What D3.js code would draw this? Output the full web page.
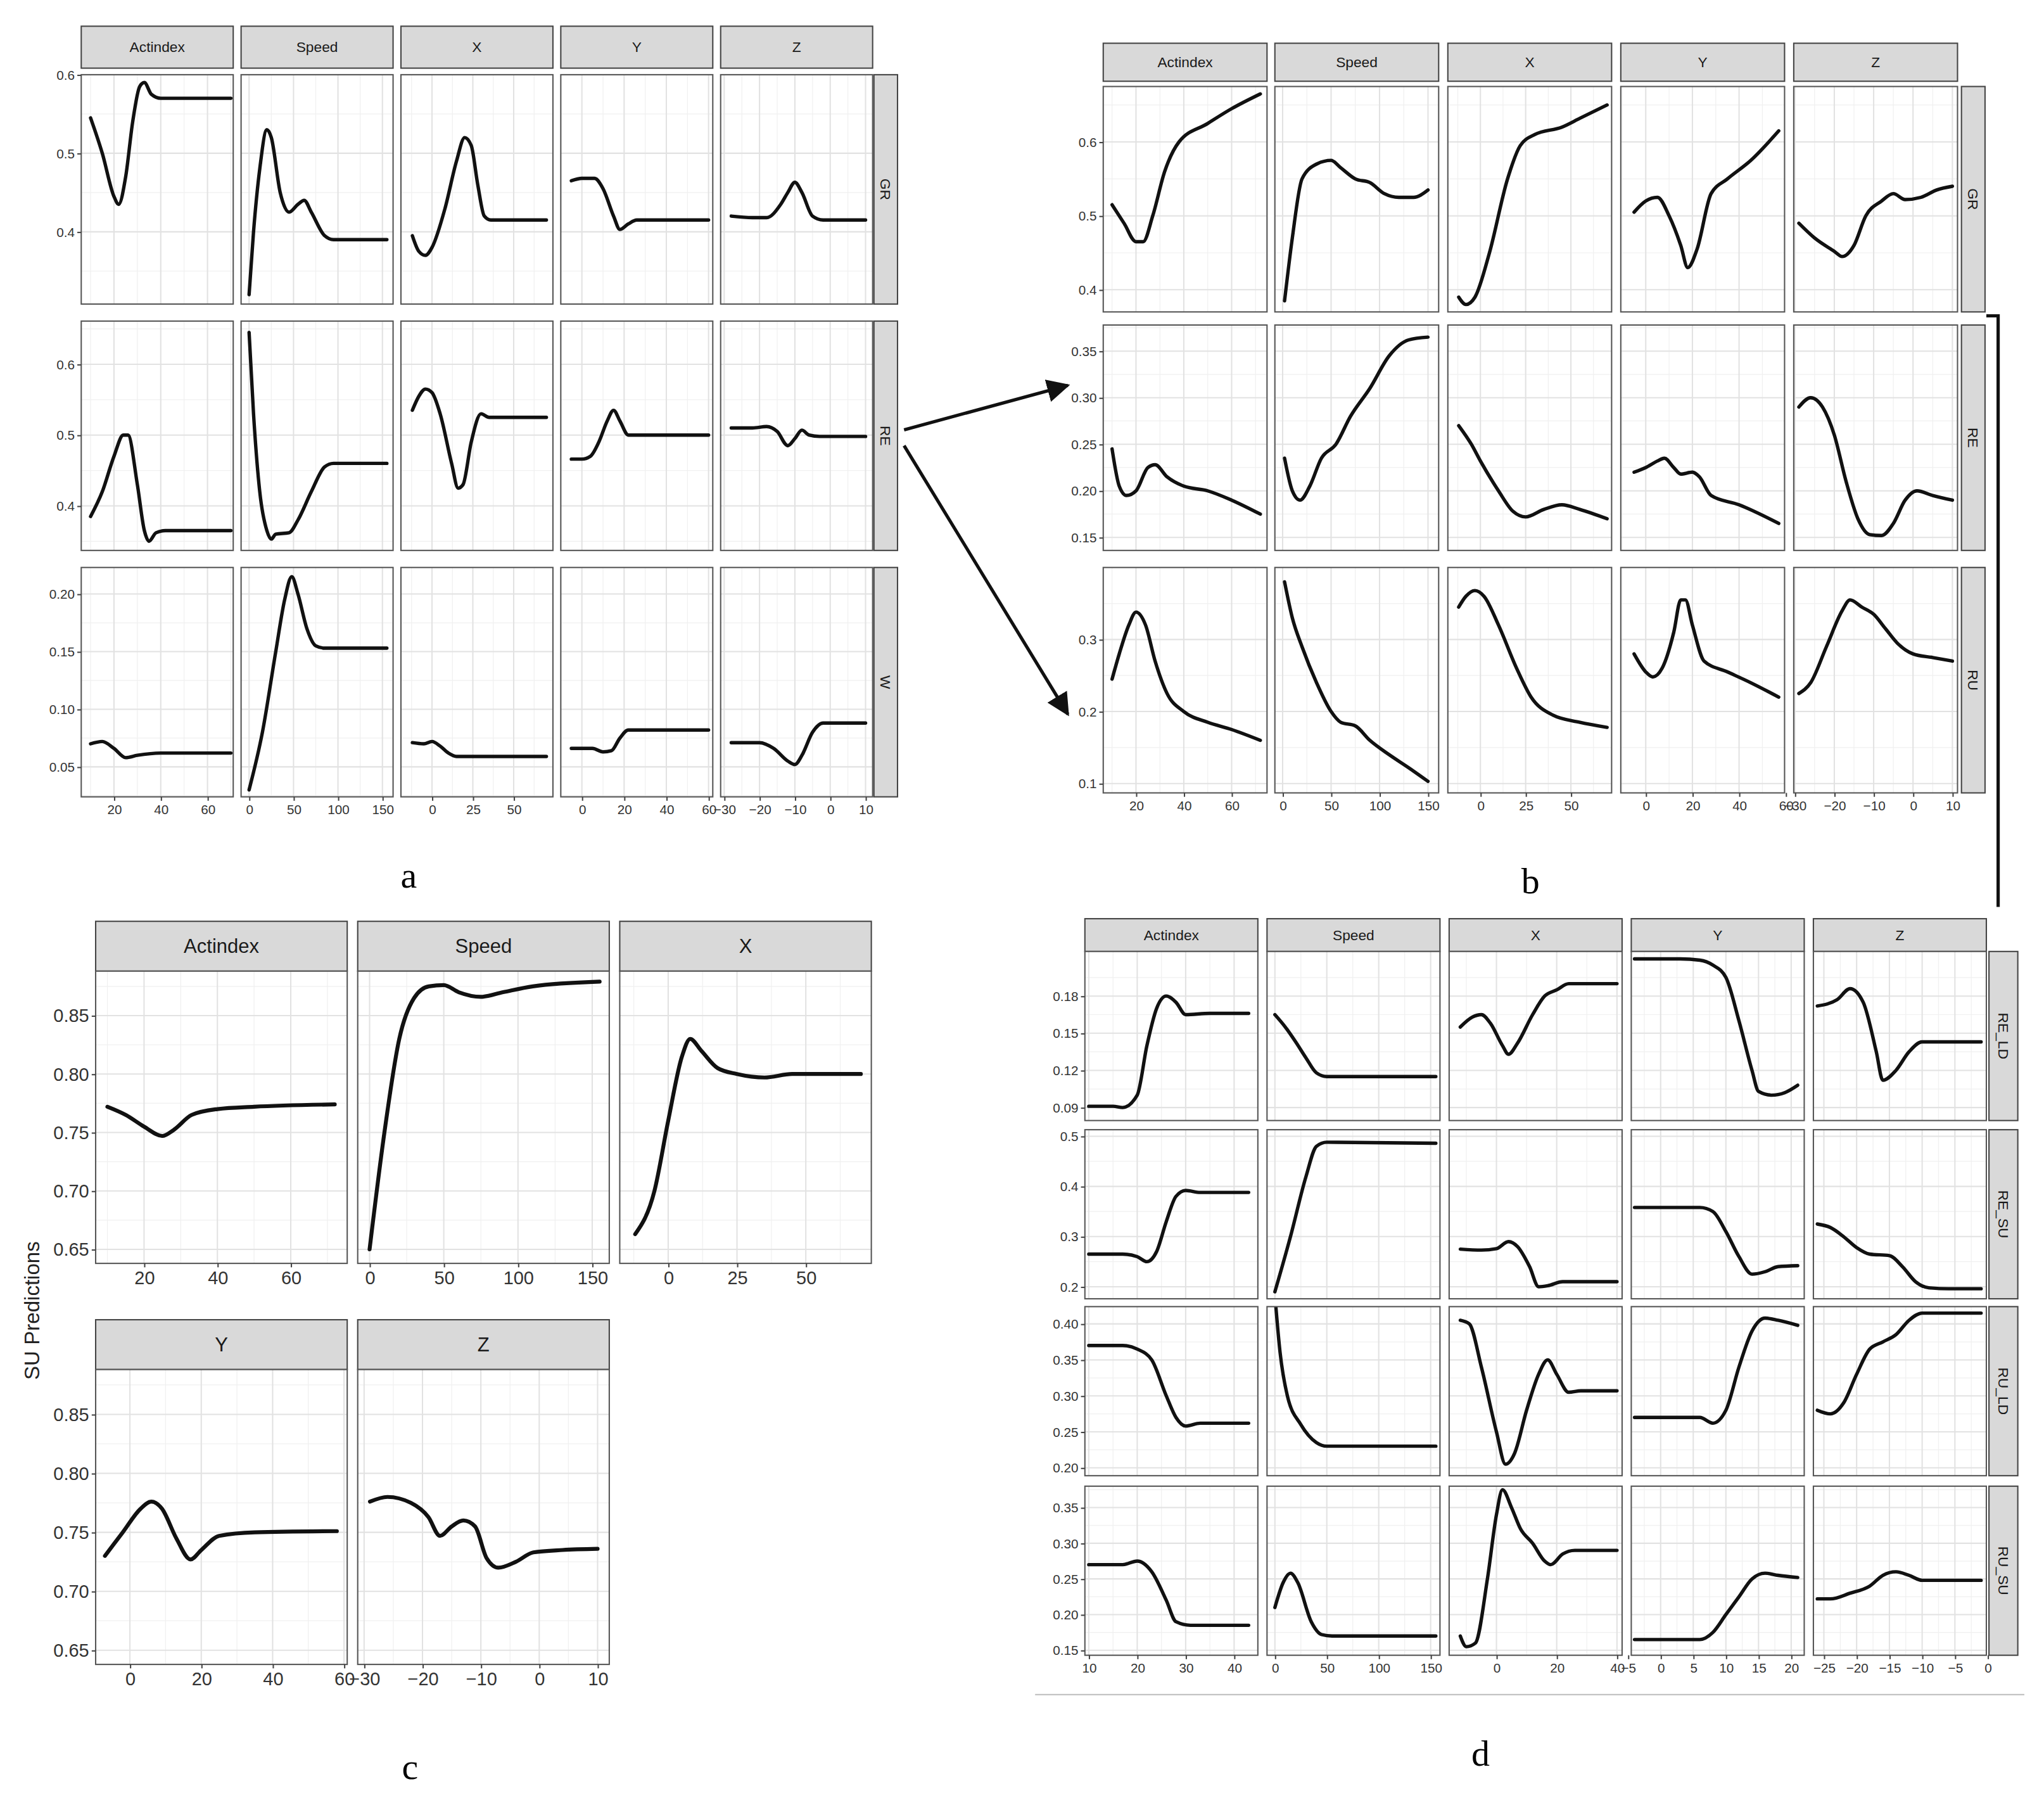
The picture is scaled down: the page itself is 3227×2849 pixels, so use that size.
<!DOCTYPE html>
<html><head><meta charset="utf-8">
<script src="https://cdn.jsdelivr.net/npm/d3@7"></script>
<style>body{margin:0;background:#fff}</style></head>
<body><div id="c"></div>
<script>
// ---------- DATA ----------
const colNames = ["Actindex","Speed","X","Y","Z"];
const aRows = ["GR","RE","W"], bRows = ["GR","RE","RU"], dRows = ["RE_LD","RE_SU","RU_LD","RU_SU"];
// x ticks
const xTicksStd = [[20,40,60],[0,50,100,150],[0,25,50],[0,20,40,60],[-30,-20,-10,0,10]];
const xTicksD = [[10,20,30,40],[0,50,100,150],[0,20,40],[-5,0,5,10,15,20],[-25,-20,-15,-10,-5,0]];
// y ticks
const aYTicks = [[0.4,0.5,0.6],[0.4,0.5,0.6],[0.05,0.10,0.15,0.20]];
const bYTicks = [[0.4,0.5,0.6],[0.15,0.20,0.25,0.30,0.35],[0.1,0.2,0.3]];
const cYTicks = [0.65,0.70,0.75,0.80,0.85];
const dYTicks = [[0.09,0.12,0.15,0.18],[0.2,0.3,0.4,0.5],[0.20,0.25,0.30,0.35,0.40],[0.15,0.20,0.25,0.30,0.35]];

// panel a
const aGR = [
 [[10,0.545],[15,0.50],[20,0.445],[22,0.435],[25,0.47],[28,0.54],[31,0.585],[33,0.59],[36,0.575],[40,0.57],[70,0.57]],
 [[0,0.32],[5,0.40],[12,0.48],[20,0.53],[25,0.52],[35,0.45],[45,0.425],[55,0.435],[62,0.44],[70,0.425],[85,0.395],[95,0.39],[155,0.39]],
 [[-12,0.395],[-8,0.375],[-4,0.37],[0,0.38],[8,0.43],[15,0.49],[20,0.52],[24,0.51],[28,0.46],[32,0.42],[36,0.415],[70,0.415]],
 [[-5,0.465],[0,0.468],[6,0.468],[10,0.455],[15,0.42],[18,0.403],[22,0.41],[26,0.415],[60,0.415]],
 [[-28,0.42],[-22,0.418],[-18,0.418],[-14,0.435],[-12,0.45],[-10,0.463],[-8,0.45],[-5,0.42],[-2,0.415],[10,0.415]]];
const aRE = [
 [[10,0.385],[15,0.42],[20,0.47],[24,0.50],[26,0.50],[30,0.43],[33,0.365],[35,0.35],[38,0.362],[42,0.365],[70,0.365]],
 [[0,0.645],[5,0.53],[12,0.42],[20,0.365],[25,0.353],[30,0.36],[45,0.362],[55,0.38],[70,0.42],[85,0.455],[95,0.46],[155,0.46]],
 [[-12,0.535],[-8,0.555],[-4,0.565],[0,0.56],[5,0.53],[12,0.46],[16,0.425],[19,0.43],[24,0.49],[30,0.53],[35,0.525],[70,0.525]],
 [[-5,0.466],[0,0.466],[4,0.47],[8,0.49],[12,0.52],[15,0.535],[18,0.52],[22,0.50],[60,0.50]],
 [[-28,0.51],[-22,0.51],[-18,0.512],[-15,0.505],[-12,0.485],[-10,0.495],[-8,0.507],[-6,0.50],[-3,0.498],[10,0.498]]];
const aW = [
 [[10,0.07],[15,0.072],[20,0.066],[25,0.058],[30,0.06],[40,0.062],[70,0.062]],
 [[0,0.03],[15,0.08],[30,0.15],[40,0.195],[48,0.215],[55,0.2],[65,0.17],[75,0.155],[85,0.153],[155,0.153]],
 [[-12,0.071],[-5,0.07],[0,0.072],[5,0.068],[10,0.062],[15,0.059],[70,0.059]],
 [[-5,0.066],[5,0.066],[10,0.063],[14,0.064],[18,0.075],[22,0.082],[60,0.082]],
 [[-28,0.071],[-20,0.071],[-16,0.066],[-12,0.055],[-10,0.052],[-8,0.06],[-5,0.08],[-2,0.088],[10,0.088]]];
// panel b
const bGR = [
 [[10,0.515],[15,0.49],[20,0.465],[23,0.465],[27,0.5],[32,0.56],[38,0.6],[50,0.625],[60,0.645],[72,0.665]],
 [[2,0.385],[10,0.47],[20,0.55],[35,0.57],[50,0.575],[60,0.565],[75,0.55],[90,0.545],[105,0.53],[120,0.525],[135,0.525],[150,0.535]],
 [[-12,0.39],[-8,0.38],[-3,0.39],[5,0.45],[15,0.55],[22,0.595],[30,0.61],[45,0.62],[55,0.632],[70,0.65]],
 [[-5,0.505],[0,0.52],[5,0.525],[10,0.5],[15,0.46],[18,0.43],[22,0.455],[28,0.53],[35,0.55],[45,0.575],[57,0.615]],
 [[-29,0.49],[-25,0.47],[-20,0.452],[-18,0.445],[-15,0.46],[-12,0.5],[-8,0.52],[-5,0.53],[-2,0.522],[2,0.525],[6,0.535],[10,0.54]]];
const bRE = [
 [[10,0.245],[13,0.205],[16,0.195],[20,0.2],[25,0.225],[28,0.228],[33,0.215],[40,0.205],[50,0.2],[60,0.19],[72,0.175]],
 [[2,0.235],[10,0.2],[18,0.19],[28,0.205],[40,0.235],[55,0.25],[70,0.28],[90,0.31],[110,0.345],[130,0.362],[150,0.365]],
 [[-12,0.27],[-5,0.25],[0,0.232],[10,0.2],[18,0.178],[25,0.172],[35,0.18],[45,0.185],[55,0.18],[70,0.17]],
 [[-5,0.22],[0,0.225],[5,0.232],[8,0.235],[12,0.225],[15,0.218],[20,0.22],[23,0.215],[28,0.195],[40,0.185],[57,0.165]],
 [[-29,0.29],[-26,0.3],[-23,0.29],[-20,0.26],[-17,0.21],[-14,0.17],[-11,0.153],[-8,0.152],[-5,0.165],[-2,0.19],[1,0.2],[5,0.195],[10,0.19]]];
const bRU = [
 [[10,0.245],[13,0.28],[17,0.32],[20,0.338],[24,0.32],[28,0.27],[33,0.225],[40,0.2],[50,0.185],[60,0.175],[72,0.16]],
 [[2,0.38],[10,0.33],[20,0.29],[35,0.24],[50,0.2],[60,0.185],[75,0.18],[90,0.16],[110,0.14],[130,0.122],[150,0.103]],
 [[-12,0.345],[-8,0.36],[-3,0.368],[2,0.36],[10,0.32],[20,0.26],[28,0.22],[40,0.195],[55,0.185],[70,0.178]],
 [[-5,0.28],[0,0.255],[3,0.248],[7,0.26],[12,0.31],[15,0.355],[17,0.355],[20,0.32],[25,0.27],[35,0.255],[45,0.24],[57,0.22]],
 [[-29,0.225],[-26,0.24],[-22,0.29],[-18,0.34],[-16,0.355],[-13,0.345],[-10,0.335],[-7,0.315],[-4,0.295],[0,0.28],[5,0.275],[10,0.27]]];
// panel c
const cSU = [
 [[10,0.772],[15,0.765],[20,0.755],[25,0.747],[28,0.752],[33,0.765],[40,0.77],[50,0.772],[72,0.774]],
 [[0,0.65],[10,0.75],[20,0.83],[30,0.865],[40,0.875],[50,0.876],[60,0.87],[75,0.866],[90,0.87],[110,0.875],[155,0.879]],
 [[-12,0.663],[-5,0.7],[0,0.76],[5,0.815],[8,0.83],[12,0.82],[18,0.805],[25,0.8],[35,0.797],[45,0.8],[70,0.8]],
 [[-7,0.73],[-2,0.75],[3,0.77],[6,0.776],[9,0.77],[13,0.745],[17,0.727],[20,0.735],[25,0.747],[35,0.75],[58,0.751]],
 [[-29,0.776],[-26,0.78],[-22,0.775],[-19,0.763],[-17,0.747],[-15,0.755],[-13,0.76],[-11,0.755],[-9,0.728],[-7,0.72],[-4,0.725],[-1,0.733],[4,0.735],[10,0.736]]];
// panel d
const dRELD = [
 [[10,0.091],[15,0.091],[17,0.09],[20,0.1],[22,0.14],[24,0.17],[26,0.18],[28,0.175],[30,0.165],[35,0.166],[43,0.166]],
 [[0,0.165],[10,0.155],[20,0.143],[30,0.13],[40,0.118],[50,0.115],[155,0.115]],
 [[-12,0.155],[-8,0.163],[-5,0.165],[-2,0.158],[2,0.14],[4,0.133],[7,0.142],[12,0.165],[16,0.18],[20,0.185],[24,0.19],[40,0.19]],
 [[-4,0.21],[0,0.21],[3,0.21],[6,0.209],[8,0.205],[10,0.195],[12,0.16],[14,0.12],[15,0.103],[17,0.1],[19,0.102],[21,0.108]],
 [[-26,0.172],[-23,0.177],[-21,0.186],[-19,0.175],[-17,0.135],[-16,0.112],[-14,0.12],[-12,0.135],[-10,0.143],[-7,0.143],[-1,0.143]]];
const dRESU = [
 [[10,0.265],[17,0.265],[20,0.26],[22,0.25],[24,0.27],[26,0.33],[28,0.38],[30,0.392],[33,0.388],[43,0.388]],
 [[0,0.19],[15,0.3],[30,0.42],[40,0.48],[50,0.488],[155,0.486]],
 [[-12,0.275],[-5,0.273],[0,0.276],[4,0.29],[7,0.28],[11,0.24],[14,0.2],[17,0.202],[22,0.21],[40,0.21]],
 [[-4,0.358],[3,0.358],[6,0.358],[8,0.35],[10,0.31],[12,0.26],[14,0.225],[16,0.23],[18,0.24],[21,0.242]],
 [[-26,0.325],[-24,0.318],[-22,0.3],[-20,0.278],[-18,0.265],[-15,0.262],[-13,0.24],[-11,0.21],[-9,0.198],[-6,0.196],[-1,0.196]]];
const dRULD = [
 [[10,0.37],[17,0.37],[20,0.365],[23,0.35],[26,0.3],[28,0.27],[30,0.258],[33,0.262],[43,0.262]],
 [[0,0.44],[5,0.36],[12,0.3],[25,0.26],[40,0.235],[50,0.23],[155,0.23]],
 [[-12,0.405],[-9,0.4],[-5,0.34],[0,0.25],[3,0.205],[6,0.22],[10,0.28],[14,0.33],[17,0.35],[20,0.33],[24,0.305],[28,0.307],[40,0.307]],
 [[-4,0.27],[3,0.27],[6,0.27],[8,0.262],[10,0.28],[12,0.34],[14,0.39],[16,0.408],[18,0.405],[21,0.398]],
 [[-26,0.28],[-24,0.275],[-22,0.29],[-20,0.33],[-18,0.365],[-16,0.375],[-14,0.385],[-12,0.405],[-10,0.415],[-6,0.415],[-1,0.415]]];
const dRUSU = [
 [[10,0.27],[17,0.27],[20,0.275],[23,0.26],[26,0.22],[28,0.19],[31,0.185],[43,0.185]],
 [[0,0.21],[8,0.245],[15,0.258],[22,0.245],[35,0.19],[45,0.172],[55,0.17],[155,0.17]],
 [[-12,0.17],[-10,0.155],[-7,0.16],[-3,0.25],[0,0.34],[2,0.375],[5,0.35],[8,0.32],[12,0.3],[16,0.275],[18,0.27],[22,0.285],[26,0.29],[40,0.29]],
 [[-4,0.165],[3,0.165],[6,0.165],[8,0.175],[10,0.2],[12,0.225],[14,0.25],[16,0.258],[18,0.255],[21,0.252]],
 [[-26,0.222],[-24,0.222],[-21,0.23],[-18,0.24],[-16,0.255],[-14,0.26],[-12,0.255],[-10,0.248],[-6,0.248],[-1,0.248]]];

// ---------- DRAWING ----------
const W = 3227, H = 2849, VW = 1560, VH = VW * H / W;
const svg = d3.select("#c").append("svg").attr("width", W).attr("height", H)
  .attr("viewBox", `0 0 ${VW} ${VH}`).style("font-family", "'Liberation Sans', Arial, sans-serif");
svg.append("rect").attr("width", VW).attr("height", VH).attr("fill", "#fff");
const defs = svg.append("defs");
let clipId = 0;

const fmt2 = d3.format(".2f"), fmt1 = d3.format(".1f");
function mids(t, dom) {
  const out = [], step = t[1] - t[0];
  const all = [t[0] - step, ...t, t[t.length - 1] + step];
  for (let i = 0; i < all.length - 1; i++) { const m = (all[i] + all[i + 1]) / 2; if (m > dom[0] && m < dom[1]) out.push(m); }
  return out;
}
function panel(o) {
  const g = svg.append("g");
  const x = d3.scaleLinear().domain(o.xd).range([o.l, o.l + o.w]);
  const y = d3.scaleLinear().domain(o.yd).range([o.t + o.h, o.t]);
  const id = "cp" + (clipId++);
  defs.append("clipPath").attr("id", id).append("rect").attr("x", o.l).attr("y", o.t).attr("width", o.w).attr("height", o.h);
  g.append("rect").attr("x", o.l).attr("y", o.t).attr("width", o.w).attr("height", o.h).attr("fill", "#fff");
  mids(o.xt, o.xd).forEach(v => g.append("line").attr("x1", x(v)).attr("x2", x(v)).attr("y1", o.t).attr("y2", o.t + o.h).attr("stroke", "#f0f0f0").attr("stroke-width", 0.6));
  mids(o.yt, o.yd).forEach(v => g.append("line").attr("y1", y(v)).attr("y2", y(v)).attr("x1", o.l).attr("x2", o.l + o.w).attr("stroke", "#f0f0f0").attr("stroke-width", 0.6));
  o.xt.filter(v => v >= o.xd[0] && v <= o.xd[1]).forEach(v => g.append("line").attr("x1", x(v)).attr("x2", x(v)).attr("y1", o.t).attr("y2", o.t + o.h).attr("stroke", "#e2e2e2").attr("stroke-width", 1));
  o.yt.filter(v => v >= o.yd[0] && v <= o.yd[1]).forEach(v => g.append("line").attr("y1", y(v)).attr("y2", y(v)).attr("x1", o.l).attr("x2", o.l + o.w).attr("stroke", "#e2e2e2").attr("stroke-width", 1));
  g.append("path").datum(o.data).attr("fill", "none").attr("stroke", "#111").attr("stroke-width", o.lw || 2.6)
    .attr("stroke-linejoin", "round").attr("stroke-linecap", "round").attr("clip-path", `url(#${id})`)
    .attr("d", d3.line().x(d => x(d[0])).y(d => y(d[1])).curve(d3.curveMonotoneX));
  g.append("rect").attr("x", o.l).attr("y", o.t).attr("width", o.w).attr("height", o.h).attr("fill", "none").attr("stroke", "#555").attr("stroke-width", 1);
  if (o.showX) {
    const ax = g.append("g").attr("transform", `translate(0,${o.t + o.h})`)
      .call(d3.axisBottom(x).tickValues(o.xt.filter(v => v >= o.xd[0] - 1 && v <= o.xd[1] + 1)).tickSize(3).tickPadding(3));
    ax.select(".domain").remove();
    ax.selectAll("line").attr("stroke", "#444");
    ax.selectAll("text").attr("font-size", o.fs).attr("fill", "#333").style("font-family", "inherit");
  }
  if (o.showY) {
    const ay = g.append("g").attr("transform", `translate(${o.l},0)`)
      .call(d3.axisLeft(y).tickValues(o.yt).tickSize(3).tickPadding(2).tickFormat(o.yf));
    ay.select(".domain").remove();
    ay.selectAll("line").attr("stroke", "#444");
    ay.selectAll("text").attr("font-size", o.fs).attr("fill", "#333").style("font-family", "inherit");
  }
}
function strip(x0, y0, w, h, label, fs, rot) {
  svg.append("rect").attr("x", x0).attr("y", y0).attr("width", w).attr("height", h).attr("fill", "#d9d9d9").attr("stroke", "#444").attr("stroke-width", 1);
  const t = svg.append("text").attr("font-size", fs).attr("fill", "#1a1a1a").attr("text-anchor", "middle").attr("dominant-baseline", "central").text(label);
  if (rot) t.attr("transform", `translate(${x0 + w / 2},${y0 + h / 2}) rotate(90)`);
  else t.attr("x", x0 + w / 2).attr("y", y0 + h / 2);
}
function grid(cfg) {
  cfg.cols.forEach((l, ci) => strip(l, cfg.stripY, cfg.w, cfg.stripH, colNames[ci], cfg.fs + 1, false));
  cfg.rows.forEach((t, ri) => {
    strip(cfg.rsX, t, cfg.rsW, cfg.h, cfg.rowNames[ri], cfg.fs + 1, true);
    cfg.cols.forEach((l, ci) => panel({
      l, t, w: cfg.w, h: cfg.h, xd: cfg.xd[ci], yd: cfg.yd[ri], xt: cfg.xt[ci], yt: cfg.yt[ri], yf: cfg.yf[ri],
      showX: ri === cfg.rows.length - 1, showY: ci === 0, data: cfg.data[ri][ci], fs: cfg.fs
    }));
  });
}
// panel a
grid({cols: [62,184,306,428,550], w: 116, rows: [57,245,433], h: 175, stripY: 20, stripH: 32, rsX: 667, rsW: 18,
  rowNames: aRows, fs: 10,
  xd: [[6,71],[-9,162],[-19,74],[-10,62],[-31,12]], xt: xTicksStd,
  yd: [[0.308,0.6],[0.337,0.661],[0.024,0.223]], yt: aYTicks, yf: [fmt1, fmt1, fmt2],
  data: [aGR, aRE, aW]});
// panel b
grid({cols: [842,973,1105,1237,1369], w: 125, rows: [66,248,433], h: 172, stripY: 33, stripH: 29, rsX: 1497, rsW: 18,
  rowNames: bRows, fs: 10,
  xd: [[6.3,74.8],[-8,161],[-18,72.5],[-10.7,59.5],[-30.3,11.3]], xt: xTicksStd,
  yd: [[0.37,0.675],[0.136,0.378],[0.087,0.4]], yt: bYTicks, yf: [fmt1, fmt2, fmt1],
  data: [bGR, bRE, bRU]});
// panel d
grid({cols: [828,967,1106,1245,1384], w: 132, rows: [726,862,997,1134], h: 129, stripY: 701, stripH: 25, rsX: 1518, rsW: 22,
  rowNames: dRows, fs: 10,
  xd: [[9.2,44.9],[-7.6,159],[-15.7,41.7],[-4.5,22],[-26.6,-0.2]], xt: xTicksD,
  yd: [[0.0795,0.216],[0.176,0.513],[0.189,0.424],[0.143,0.38]], yt: dYTicks, yf: [fmt2, fmt1, fmt2, fmt2],
  data: [dRELD, dRESU, dRULD, dRUSU]});
// panel c
const cPos = [[73,741,223],[273,741,223],[473,741,223],[73,1045,225],[273,1045,225]];
const cXd = [[6.8,75.4],[-8,161.5],[-17.6,73.8],[-9.6,60.9],[-31.1,12]];
cPos.forEach(([l, t, h], i) => {
  strip(l, t - 38, 192, 38, colNames[i], 15, false);
  panel({l, t, w: 192, h, xd: cXd[i], yd: [0.638, 0.888], xt: xTicksStd[i], yt: cYTicks, yf: fmt2,
    showX: true, showY: l === 73, data: cSU[i], fs: 14, lw: 3});
});
svg.append("text").attr("transform", "translate(30,1000) rotate(-90)").attr("text-anchor", "middle")
  .attr("font-size", 16).attr("fill", "#222").text("SU Predictions");

// annotations
defs.append("marker").attr("id", "ah").attr("viewBox", "0 0 10 10").attr("refX", 9).attr("refY", 5)
  .attr("markerWidth", 7).attr("markerHeight", 7).attr("orient", "auto")
  .append("path").attr("d", "M0,0 L10,5 L0,10 z").attr("fill", "#111");
[[690,328,815,294],[690,340,815,545]].forEach(a => svg.append("line").attr("x1", a[0]).attr("y1", a[1]).attr("x2", a[2]).attr("y2", a[3])
  .attr("stroke", "#111").attr("stroke-width", 2.5).attr("marker-end", "url(#ah)"));
svg.append("path").attr("d", "M1516,241 L1525,241 L1525,692").attr("fill", "none").attr("stroke", "#111").attr("stroke-width", 2.5);
svg.append("line").attr("x1", 790).attr("x2", 1545).attr("y1", 1293).attr("y2", 1293).attr("stroke", "#bbb").attr("stroke-width", 1);
[["a",312,668],["b",1168,672],["c",313,1348],["d",1130,1338]].forEach(l => svg.append("text").attr("x", l[1]).attr("y", l[2])
  .attr("text-anchor", "middle").attr("dominant-baseline", "central").attr("font-size", 28)
  .style("font-family", "'Liberation Serif', 'DejaVu Serif', serif").text(l[0]));
</script></body></html>
